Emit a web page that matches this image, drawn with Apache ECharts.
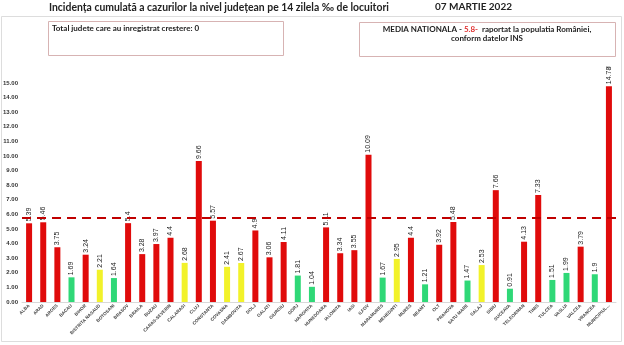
<!DOCTYPE html>
<html><head><meta charset="utf-8">
<script src="https://cdn.jsdelivr.net/npm/echarts@6/dist/echarts.min.js"></script>
<style>html,body{margin:0;padding:0;background:#fff}#c{width:624px;height:345px}</style>
</head><body><div id="c"></div>
<script>
var categories = ["ALBA","ARAD","ARGES","BACAU","BIHOR","BISTRITA NASAUD","BOTOSANI","BRASOV","BRAILA","BUZAU","CARAS-SEVERIN","CALARASI","CLUJ","CONSTANTA","COVASNA","DAMBOVITA","DOLJ","GALATI","GIURGIU","GORJ","HARGHITA","HUNEDOARA","IALOMITA","IASI","ILFOV","MARAMURES","MEHEDINTI","MURES","NEAMT","OLT","PRAHOVA","SATU MARE","SALAJ","SIBIU","SUCEAVA","TELEORMAN","TIMIS","TULCEA","VASLUI","VALCEA","VRANCEA","MUNICIPIUL..."];
var values = [5.39,5.46,3.75,1.69,3.24,2.21,1.64,5.4,3.28,3.97,4.4,2.68,9.66,5.57,2.41,2.67,4.9,3.06,4.11,1.81,1.04,5.11,3.34,3.55,10.09,1.67,2.95,4.4,1.21,3.92,5.48,1.47,2.53,7.66,0.91,4.13,7.33,1.51,1.99,3.79,1.9,14.78];
var nationalAverage = 5.8;
var yTicks = {min:0, max:15, interval:1};

function colorFor(v){ return v < 2 ? '#2fd877' : (v < 3 ? '#f2f22a' : '#e00b0b'); }

var chart = echarts.init(document.getElementById('c'), null, {renderer:'canvas'});
chart.setOption({
  animation:false,
  backgroundColor:'#fff',
  grid:{left:21, right:8, top:83, bottom:43},
  xAxis:{type:'category', data:categories,
    axisLine:{show:true, lineStyle:{color:'#d9d9d9'}}, axisTick:{show:false},
    axisLabel:{interval:0, rotate:45, fontSize:4.5, color:'#444', fontFamily:'Liberation Sans', fontWeight:'bold', margin:3}},
  yAxis:{type:'value', min:yTicks.min, max:yTicks.max, interval:yTicks.interval,
    splitLine:{show:false}, axisLine:{show:false}, axisTick:{show:false},
    axisLabel:{fontSize:6, color:'#333', fontWeight:'bold', fontFamily:'Liberation Sans', margin:4,
      formatter:function(v){return v.toFixed(2);}}},
  series:[{type:'bar', data:values.map(function(v){return {value:v, itemStyle:{color:colorFor(v)}};}),
    barWidth:6,
    label:{show:true, position:'top', rotate:90, align:'left', verticalAlign:'middle', distance:2,
      fontSize:7, color:'#222', fontFamily:'Liberation Sans'},
    markLine:{silent:true, symbol:'none', label:{show:false},
      lineStyle:{color:'#c00000', width:2, type:[9,6]},
      data:[{yAxis:nationalAverage}]}
  }],
  graphic:[
    {type:'rect', shape:{x:1.5,y:16.5,width:620,height:325}, style:{fill:null, stroke:'#dddddd', lineWidth:1}, silent:true},
    {type:'text', left:49, top:3, style:{text:'Incidența cumulată a cazurilor la nivel județean pe 14 zilela ‰ de locuitori', font:'bold 10.4px Lato, sans-serif', fill:'#222'}},
    {type:'text', left:435, top:2, style:{text:'07 MARTIE 2022', font:'bold 10px Lato, sans-serif', fill:'#222'}},
    {type:'rect', shape:{x:48.5,y:21.5,width:235,height:34}, style:{fill:'#fff', stroke:'#d7b3b3', lineWidth:1}},
    {type:'text', left:52, top:24, style:{text:'Total judete care au inregistrat crestere: 0', font:'bold 8px Lato, sans-serif', fill:'#222'}},
    {type:'rect', shape:{x:359.5,y:22.5,width:256,height:34}, style:{fill:'#fff', stroke:'#d7b3b3', lineWidth:1}},
    {type:'text', x:487, y:25, style:{rich:{a:{font:'bold 8px Lato, sans-serif', fill:'#222'}, r:{font:'bold 8px Lato, sans-serif', fill:'#e03030'}},
      text:'{a|MEDIA NATIONALA - }{r|5.8-}{a|  raportat la populatia României,}', align:'center'}},
    {type:'text', x:487, y:34, style:{text:'conform datelor INS', font:'bold 8px Lato, sans-serif', fill:'#222', align:'center'}},
    {type:'text', left:606, top:66, style:{text:'99', font:'4px sans-serif', fill:'#555'}}
  ]
});
</script></body></html>
